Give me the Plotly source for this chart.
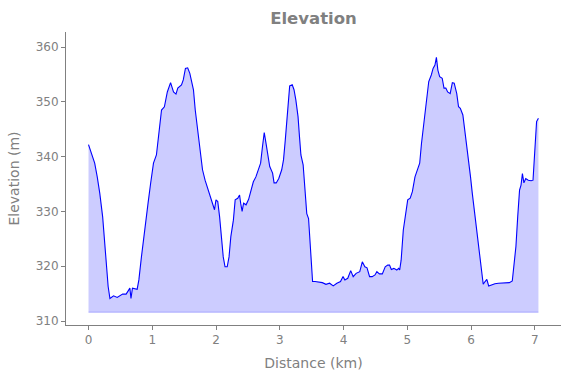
import plotly.graph_objects as go

distance_km = [0, 0.05, 0.097, 0.137, 0.177, 0.222, 0.25, 0.279, 0.308, 0.336, 0.393, 0.45, 0.535, 0.59,
               0.649, 0.666, 0.689, 0.763, 0.79, 0.83, 0.877, 0.934, 0.974, 1.019, 1.065, 1.105, 1.145,
               1.19, 1.236, 1.287, 1.333, 1.372, 1.4, 1.458, 1.486, 1.52, 1.555, 1.589, 1.629, 1.646,
               1.674, 1.703, 1.748, 1.788, 1.828, 1.874, 1.919, 1.959, 1.976, 1.999, 2.027, 2.056, 2.084,
               2.113, 2.141, 2.175, 2.204, 2.232, 2.272, 2.3, 2.34, 2.369, 2.386, 2.409, 2.432, 2.471,
               2.511, 2.545, 2.585, 2.625, 2.671, 2.699, 2.728, 2.756, 2.784, 2.813, 2.842, 2.887, 2.91,
               2.944, 2.984, 3.03, 3.058, 3.086, 3.126, 3.155, 3.195, 3.223, 3.252, 3.286, 3.309, 3.331,
               3.366, 3.394, 3.423, 3.451, 3.48, 3.514, 3.554, 3.61, 3.667, 3.724, 3.781, 3.838, 3.895,
               3.952, 3.992, 4.021, 4.066, 4.112, 4.151, 4.197, 4.254, 4.294, 4.334, 4.368, 4.408, 4.448,
               4.493, 4.522, 4.562, 4.608, 4.653, 4.693, 4.721, 4.749, 4.789, 4.835, 4.863, 4.88, 4.903,
               4.937, 4.977, 5.006, 5.045, 5.079, 5.12, 5.165, 5.194, 5.222, 5.262, 5.302, 5.336, 5.376,
               5.404, 5.433, 5.456, 5.479, 5.507, 5.547, 5.575, 5.604, 5.632, 5.672, 5.706, 5.735, 5.775,
               5.803, 5.831, 5.871, 5.917, 5.957, 5.991, 6.019, 6.059, 6.099, 6.133, 6.156, 6.19, 6.219,
               6.247, 6.276, 6.315, 6.373, 6.429, 6.486, 6.543, 6.6, 6.646, 6.674, 6.703, 6.731, 6.76,
               6.783, 6.805, 6.828, 6.857, 6.897, 6.942, 6.971, 6.999, 7.027, 7.056]

elevation_m = [342.2, 340.6, 338.8, 336.3, 333.3, 329.0, 324.8, 319.9, 316.3, 314.1, 314.6, 314.3, 314.9, 314.9,
               316.0, 314.1, 316.0, 315.8, 317.5, 321.7, 326.6, 331.5, 335.1, 338.8, 340.3, 344.2, 348.5,
               349.1, 351.8, 353.5, 351.8, 351.4, 352.5, 353.1, 354.0, 356.1, 356.2, 355.2, 352.6, 352.2,
               348.5, 345.5, 341.2, 337.6, 335.7, 333.9, 332.1, 330.6, 330.3, 332.1, 331.8, 329.0, 324.8,
               321.7, 319.9, 319.9, 321.7, 325.4, 328.4, 332.1, 332.4, 333.0, 331.5, 330.0, 331.5, 331.2,
               332.2, 333.9, 335.4, 336.3, 337.9, 338.8, 341.8, 344.4, 342.4, 340.0, 338.2, 337.0, 335.2,
               335.2, 336.0, 337.6, 339.4, 343.0, 349.1, 352.9, 353.1, 352.2, 350.3, 347.3, 343.6, 340.3,
               338.5, 333.9, 329.6, 328.7, 323.6, 317.2, 317.2, 317.1, 317.0, 316.7, 316.9, 316.4, 316.9,
               317.2, 318.1, 317.5, 317.8, 319.2, 318.1, 318.7, 319.0, 320.8, 319.9, 319.7, 318.1, 318.1,
               318.4, 319.0, 318.6, 318.6, 319.9, 320.2, 320.2, 319.4, 319.6, 319.3, 319.6, 319.3, 321.1,
               326.6, 329.6, 332.1, 332.4, 333.6, 336.3, 337.9, 338.8, 342.4, 346.7, 350.3, 353.7, 354.9,
               356.1, 356.7, 358.1, 355.8, 354.6, 354.3, 352.5, 352.5, 351.8, 351.5, 353.5, 353.4, 351.5,
               349.1, 348.8, 347.6, 343.6, 340.0, 336.3, 333.3, 329.6, 325.4, 322.3, 319.9, 316.7, 317.2,
               317.6, 316.4, 316.6, 316.8, 316.9, 316.9, 317.0, 317.0, 317.3, 320.5, 323.6, 329.0, 333.9,
               334.8, 336.9, 335.2, 336.0, 335.7, 335.6, 335.7, 341.8, 346.4, 347.0]

baseline_m = 311.6

title_text = "Elevation"
x_title = "Distance (km)"
y_title = "Elevation (m)"
x_ticks = [0, 1, 2, 3, 4, 5, 6, 7]
y_ticks = [310, 320, 330, 340, 350, 360]

gray = "#808080"
font_family = "DejaVu Sans"

fig = go.Figure()
fig.add_trace(go.Scatter(
    x=distance_km, y=[baseline_m] * len(distance_km), mode="lines",
    line=dict(color="rgba(0,0,255,0.25)", width=1), hoverinfo="skip", showlegend=False))
fig.add_trace(go.Scatter(
    x=distance_km, y=elevation_m, mode="lines", fill="tonexty",
    fillcolor="rgba(0,0,255,0.2)", line=dict(color="#0000ff", width=1.1), showlegend=False))

axis_common = dict(
    showgrid=False, zeroline=False, showline=True, linecolor=gray, linewidth=1,
    ticks="outside", ticklen=4, tickcolor=gray, tickwidth=1,
    tickfont=dict(family=font_family, size=12, color=gray),
    mirror=False,
)

fig.update_layout(
    width=571, height=378,
    margin=dict(l=66, r=10, t=32, b=53, autoexpand=False),
    paper_bgcolor="white", plot_bgcolor="white",
    title=dict(text="<b>" + title_text + "</b>", x=(66 + 561) / 2 / 571, xanchor="center",
               y=1 - 18 / 378, yanchor="middle",
               font=dict(family=font_family, size=16.5, color=gray)),
    xaxis=dict(range=[-0.353, 7.41], tickvals=x_ticks,
               title=dict(text=x_title, font=dict(family=font_family, size=14, color=gray), standoff=11),
               **axis_common),
    yaxis=dict(range=[309.27, 362.74], tickvals=y_ticks,
               title=dict(text=y_title, font=dict(family=font_family, size=14, color=gray), standoff=12),
               **axis_common),
)

fig.write_html("out.html", config={"displayModeBar": False},
               post_script="document.body.style.margin='0';document.body.style.padding='0';")
